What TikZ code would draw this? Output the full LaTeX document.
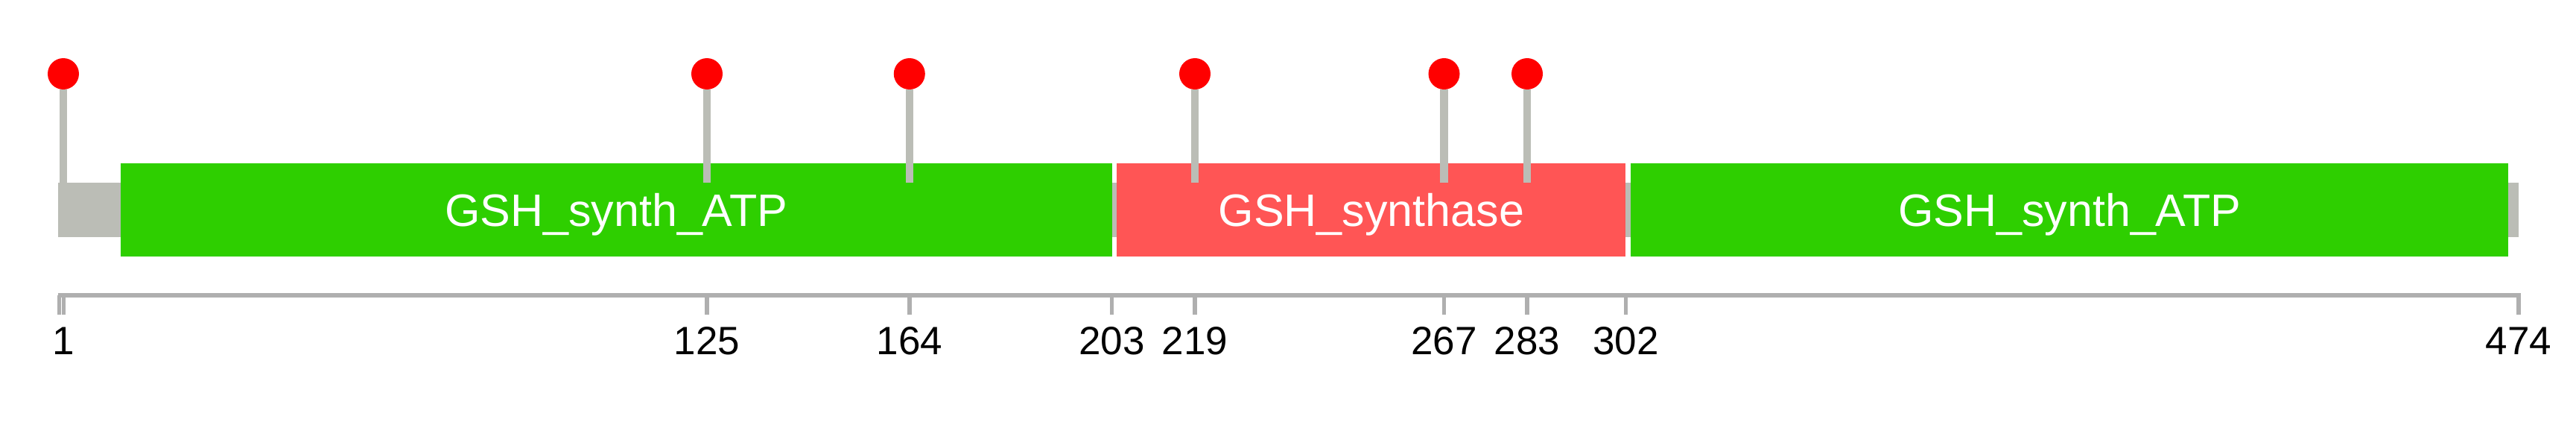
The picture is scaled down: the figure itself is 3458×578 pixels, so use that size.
\documentclass[tikz,border=0pt]{standalone}
\usepackage{fontspec}
\setmainfont{Liberation Sans}
\definecolor{dgreen}{RGB}{46,207,0}
\definecolor{dred}{RGB}{255,85,85}
\definecolor{bbgray}{RGB}{187,189,182}
\definecolor{axgray}{RGB}{175,175,175}
\definecolor{lolred}{RGB}{255,0,0}
\begin{document}
\begin{tikzpicture}[x=1pt,y=-1pt,
  backbonebox/.style={fill=bbgray,draw=none},
  domainbox/.style={rectangle,draw=none,inner sep=0pt,minimum height=125pt,
    text=white,font=\fontsize{61}{70}\selectfont,text height=43pt,text depth=0pt},
  lolhead/.style={circle,fill=lolred,draw=none,inner sep=0pt,minimum size=42pt},
  stemline/.style={draw=bbgray,line width=10.5pt},
  axisline/.style={draw=axgray,line width=5.3pt},
  axistick/.style={draw=axgray,line width=5.5pt},
  axislabel/.style={anchor=base,inner sep=0pt,font=\fontsize{53}{60}\selectfont,text=black}]
\useasboundingbox (0,0) rectangle (3458,578);
\fill[white] (0,0) rectangle (3458,578);
% backbone
\node[backbonebox,rectangle,inner sep=0pt,minimum width=3303pt,minimum height=73pt] (backbone) at (1729.5,281.5) {};
% domains
\node[domainbox,fill=dgreen,minimum width=1330.9pt] (d1) at (827.1,281.5) {GSH\_synth\_ATP};
\node[domainbox,fill=dred,minimum width=682.9pt] (d2) at (1840.9,281.5) {GSH\_synthase};
\node[domainbox,fill=dgreen,minimum width=1177.6pt] (d3) at (2778.1,281.5) {GSH\_synth\_ATP};
% lollipops
\foreach \n/\xx in {1/85,125/949.0,164/1220.8,219/1604.0,267/1938.5,283/2050.0}{
  \coordinate (s\n) at (\xx,245);
  \node[lolhead] (l\n) at (\xx,99) {};
  \draw[stemline] (l\n.south) -- (s\n);
}
% axis
\coordinate (a0) at (78,396);
\coordinate (aend) at (3383.5,396);
\draw[axisline] (a0) -- (aend);
\coordinate (t0) at (79.5,396);
\draw[axistick] (t0) -- ++(0,26);
\foreach \n/\xx in {1/85.5,125/949.0,164/1220.8,203/1492.5,219/1604.0,267/1938.5,283/2050.0,302/2182.4,474/3380.9}{
  \coordinate (t\n) at (\xx,396);
  \draw[axistick] (t\n) -- ++(0,26);
  \node[axislabel] (lab\n) at (\xx,475) {\n};
}
\end{tikzpicture}
\end{document}
